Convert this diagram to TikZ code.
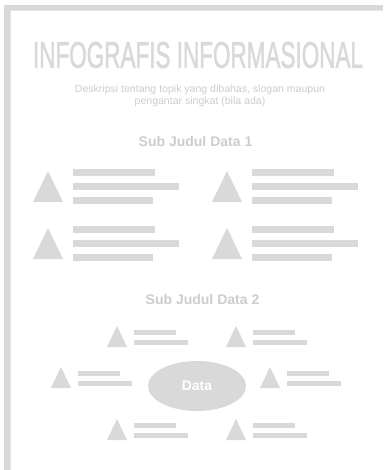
\documentclass[tikz,border=0pt]{standalone}
\usepackage{fontspec}
\usepackage{graphicx}
\setmainfont{Liberation Sans}
\newfontfamily\judulfont[FakeBold=1.6]{Liberation Sans}
\definecolor{abu}{HTML}{D9D9D9}
\definecolor{abutext}{HTML}{CDCDCD}
\definecolor{garis}{HTML}{E2E7EB}

\begin{document}
\begin{tikzpicture}[x=0.75pt,y=-0.75pt,
    blok/.style={fill=abu, draw=none},
    teks/.style={inner sep=0pt, text=abutext}]
    \useasboundingbox (0,0) rectangle (383,470);
    \fill[white] (0,0) rectangle (383,470);

    % bingkai kiri dan atas
    \fill[abu] (4,5) rectangle (383,10);
    \fill[abu] (4,5) rectangle (10,470);
    \draw[garis, line width=0.6pt] (10.3,470) -- (10.3,10.3) -- (383,10.3);

    \node[teks, text=abu] (judul) at (198,55) {\resizebox{247.5pt}{19.5pt}{\judulfont INFOGRAFIS INFORMASIONAL}};
    \node[teks, align=center, font=\fontsize{7.9pt}{9pt}\selectfont] (deskripsi) at (200,96)
        {Deskripsi tentang topik yang dibahas, slogan maupun\\pengantar singkat (bila ada)};

    \node[teks, font=\fontsize{10.5pt}{12pt}\selectfont\bfseries] (sub1) at (195.5,141.5) {Sub Judul Data 1};

%    kelompok besar: segitiga dan tiga baris
    \foreach \x/\y in {33/171, 212/171, 33/228, 212/228} {
        \fill[blok] (\x,\y+31) -- (\x+15,\y) -- (\x+30,\y+31) -- cycle;
        \fill[blok] (\x+40,\y-2) rectangle (\x+122,\y+5);
        \fill[blok] (\x+40,\y+12) rectangle (\x+146,\y+19);
        \fill[blok] (\x+40,\y+26) rectangle (\x+120,\y+33);
    }

    \node[teks, font=\fontsize{10.5pt}{12pt}\selectfont\bfseries] (sub2) at (202.5,299) {Sub Judul Data 2};

    \fill[blok] (197,386) ellipse [x radius=49, y radius=25];
    \node[inner sep=0pt, text=white, font=\fontsize{10.4pt}{12pt}\selectfont\bfseries] (data) at (197,386) {Data};

%    kelompok kecil di sekitar elips
    \foreach \x/\y in {107/326, 226/326, 51/367, 260/367, 107/419, 226/419} {
        \fill[blok] (\x,\y+21) -- (\x+10,\y) -- (\x+20,\y+21) -- cycle;
        \fill[blok] (\x+27,\y+4) rectangle (\x+69,\y+8.5);
        \fill[blok] (\x+27,\y+14) rectangle (\x+81,\y+18.5);
    }

\end{tikzpicture}
\end{document}
